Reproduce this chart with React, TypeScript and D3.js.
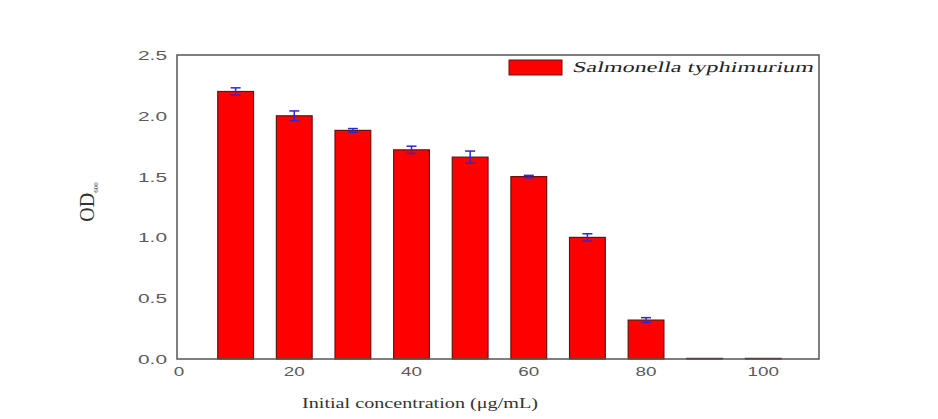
import React, { useEffect, useRef } from "react";
import * as d3 from "d3";

const concentrations = [10, 20, 30, 40, 50, 60, 70, 80, 90, 100];
const odValues = [2.2, 2.0, 1.88, 1.72, 1.66, 1.5, 1.0, 0.32, 0.005, 0.005];
const odErrors = [0.03, 0.04, 0.015, 0.03, 0.05, 0.01, 0.03, 0.02, 0, 0];
const xTicks = [0, 20, 40, 60, 80, 100];
const yTicks = [0, 0.5, 1.0, 1.5, 2.0, 2.5];
const seriesName = "Salmonella typhimurium";

const BarChart = () => {
  const svgRef = useRef<SVGSVGElement>(null);

  useEffect(() => {
    const width = 938;
    const height = 419;
    const margin = { top: 55, right: 119, bottom: 60, left: 177 };

    const svg = d3.select(svgRef.current)
      .attr("width", width)
      .attr("height", height);

    svg.selectAll("*").remove();

    svg.append("rect")
      .attr("width", width)
      .attr("height", height)
      .attr("fill", "#ffffff");

    const xScale = d3.scaleLinear()
      .domain([0, 109.5])
      .range([margin.left, width - margin.right]);

    const yScale = d3.scaleLinear()
      .domain([0, 2.5])
      .range([height - margin.bottom, margin.top]);

    const barW = xScale(6.1) - xScale(0);

    // bars
    svg.selectAll(".bar")
      .data(concentrations)
      .enter()
      .append("rect")
      .attr("x", d => xScale(d) - barW / 2)
      .attr("y", (_, i) => yScale(odValues[i]))
      .attr("width", barW)
      .attr("height", (_, i) => yScale(0) - yScale(odValues[i]))
      .attr("fill", "#ff0000")
      .attr("stroke", "#6a1010")
      .attr("stroke-width", 1.2);

    // error bars
    const errG = svg.append("g")
      .attr("stroke", "#2a2ad0")
      .attr("stroke-width", 1.5);

    concentrations.forEach((c, i) => {
      if (odErrors[i] <= 0) return;
      const cx = xScale(c);
      const top = yScale(odValues[i] + odErrors[i]);
      const bot = yScale(odValues[i] - odErrors[i]);
      errG.append("line").attr("x1", cx).attr("x2", cx).attr("y1", top).attr("y2", bot);
      errG.append("line").attr("x1", cx - 5).attr("x2", cx + 5).attr("y1", top).attr("y2", top);
      errG.append("line").attr("x1", cx - 5).attr("x2", cx + 5).attr("y1", bot).attr("y2", bot);
    });

    // frame
    svg.append("rect")
      .attr("x", margin.left)
      .attr("y", margin.top)
      .attr("width", width - margin.left - margin.right)
      .attr("height", height - margin.top - margin.bottom)
      .attr("fill", "none")
      .attr("stroke", "#555")
      .attr("stroke-width", 1.5);

    const labelLen = (s: string) =>
      s.split("").reduce((sum, ch) => sum + (ch === "." ? 8 : 10.5), 0);

    // y tick labels
    svg.append("g")
      .selectAll("text")
      .data(yTicks)
      .enter()
      .append("text")
      .attr("x", margin.left - 10)
      .attr("y", d => yScale(d) + 5)
      .attr("text-anchor", "end")
      .attr("font-family", "Liberation Sans, Arial, sans-serif")
      .attr("font-size", 13)
      .attr("fill", "#5a5a5a")
      .attr("textLength", d => labelLen(d.toFixed(1)))
      .attr("lengthAdjust", "spacingAndGlyphs")
      .text(d => d.toFixed(1));

    // x tick labels
    svg.append("g")
      .selectAll("text")
      .data(xTicks)
      .enter()
      .append("text")
      .attr("x", d => xScale(d) + (d === 0 ? 2 : 0))
      .attr("y", height - margin.bottom + 17)
      .attr("text-anchor", "middle")
      .attr("font-family", "Liberation Sans, Arial, sans-serif")
      .attr("font-size", 13)
      .attr("fill", "#5a5a5a")
      .attr("textLength", d => labelLen(String(d)))
      .attr("lengthAdjust", "spacingAndGlyphs")
      .text(d => String(d));

    // axis titles
    svg.append("text")
      .attr("x", 420)
      .attr("y", 408)
      .attr("text-anchor", "middle")
      .attr("font-family", "Liberation Serif, Times New Roman, serif")
      .attr("font-size", 15)
      .attr("fill", "#333")
      .attr("textLength", 236)
      .attr("lengthAdjust", "spacingAndGlyphs")
      .text("Initial concentration (\u03bcg/mL)");

    const yTitle = svg.append("text")
      .attr("transform", "translate(94,202) rotate(-90)")
      .attr("text-anchor", "middle")
      .attr("font-family", "Liberation Serif, Times New Roman, serif")
      .attr("fill", "#333");
    yTitle.append("tspan").attr("font-size", 20).text("OD");
    yTitle.append("tspan").attr("font-size", 7).attr("dy", 4).text("600");

    // legend
    const legend = svg.append("g").attr("transform", "translate(509,60)");
    legend.append("rect")
      .attr("width", 53)
      .attr("height", 15)
      .attr("fill", "#ff0000")
      .attr("stroke", "#6a1010")
      .attr("stroke-width", 1);
    legend.append("text")
      .attr("transform", "translate(63,12) skewX(-14)")
      .attr("font-family", "Liberation Serif, Times New Roman, serif")
      .attr("font-size", 15)
      .attr("fill", "#222")
      .attr("textLength", 241)
      .attr("lengthAdjust", "spacingAndGlyphs")
      .text(seriesName);
  }, []);

  return <svg ref={svgRef} style={{ position: "fixed", top: 0, left: 0 }}></svg>;
};

export default function App() {
  return <BarChart />;
}
